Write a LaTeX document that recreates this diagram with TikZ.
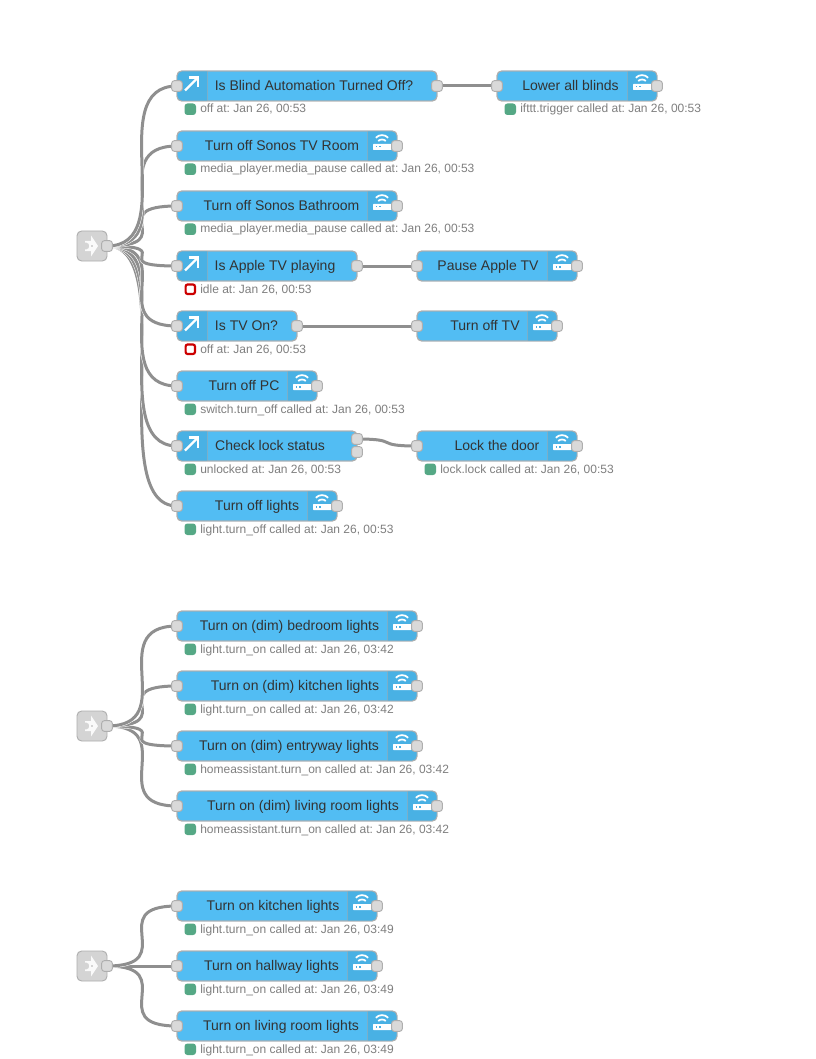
\documentclass[tikz,border=0pt]{standalone}
\usepackage{fontspec}
\setmainfont{Liberation Sans}
\frenchspacing
\definecolor{nodeblue}{HTML}{52BDF3}
\definecolor{icondark}{HTML}{49B1E4}
\definecolor{nodeedge}{HTML}{AEAEAE}
\definecolor{wiregray}{HTML}{8F8F8F}
\definecolor{labeltxt}{HTML}{333333}
\definecolor{stattxt}{HTML}{7F7F7F}
\definecolor{okgreen}{HTML}{55A885}
\definecolor{badred}{HTML}{CC0000}
\definecolor{injectgray}{HTML}{D4D4D4}
\definecolor{portfill}{HTML}{D9D9D9}
\pgfdeclarelayer{bg}
\pgfdeclarelayer{wires}
\pgfsetlayers{bg,wires,main}
\tikzset{
  nodebody/.style={draw=nodeedge,line width=.7pt,fill=nodeblue,rounded corners=3.5pt},
  portbox/.style={draw=nodeedge,line width=.7pt,fill=portfill,rounded corners=2pt,minimum width=8pt,minimum height=8pt,inner sep=0pt,rectangle},
  wirehalo/.style={draw=white,line width=3pt},
  wireline/.style={draw=wiregray,line width=2.25pt},
  nlabel/.style={text=labeltxt,font=\fontsize{10.5}{12}\selectfont,inner sep=0pt,anchor=base},
  slabel/.style={text=stattxt,font=\fontsize{9}{11}\selectfont,inner sep=0pt,anchor=base west},
}
% wire: source node, target node, control offset
\newcommand{\wirecurve}[3]{%
  \begin{pgfonlayer}{wires}
  \draw[wirehalo] (#1.center) .. controls ([xshift=#3]#1.center) and ([xshift=-#3]#2.center) .. (#2.center);
  \draw[wireline] (#1.center) .. controls ([xshift=#3]#1.center) and ([xshift=-#3]#2.center) .. (#2.center);
  \end{pgfonlayer}}
% wifi icon, centred on x,y
\newcommand{\wifiicon}[2]{%
  \begin{scope}[shift={(#1,#2)}]
    \fill[white,rounded corners=.5pt] (-9,-2) rectangle (9.5,4);
    \fill[icondark] (-6.5,0) rectangle (-5,1.5);
    \fill[icondark] (-3,0) rectangle (-1.5,1.5);
    \draw[white,line width=1.3pt] (-3.8,-5) .. controls (-2,-7) and (2,-7) .. (3.8,-5);
    \draw[white,line width=1.3pt] (-6.2,-8.2) .. controls (-3,-11.8) and (3,-11.8) .. (6.2,-8.2);
  \end{scope}}
% arrow icon, centred on x,y
\newcommand{\switchicon}[2]{%
  \begin{scope}[shift={(#1,#2)}]
    \draw[white,line width=1.6pt] (-6.5,6.5) -- (6,-6);
    \draw[white,line width=1.6pt] (-3,-6.5) -- (6.8,-6.5) -- (6.8,3.5);
  \end{scope}}
% service node body: id, x1, x2, ytop, textcentre, label
\newcommand{\svcbody}[6]{%
  \draw[nodebody] (#2,#4) rectangle (#3,#4+30);
  \begin{scope}
    \clip[rounded corners=3.5pt] (#2,#4) rectangle (#3,#4+30);
    \fill[icondark] (#3-30,#4) rectangle (#3,#4+30);
  \end{scope}
  \draw[nodeedge!50!icondark,line width=.4pt] (#3-30,#4) -- (#3-30,#4+30);
  \draw[nodeedge,line width=.7pt,rounded corners=3.5pt] (#2,#4) rectangle (#3,#4+30);
  \wifiicon{#3-15}{#4+15}
  \node[nlabel] (#1t) at (#5,#4+19.5) {#6};
  \node[portbox] (#1i) at (#2,#4+15) {};
  \node[portbox] (#1o) at (#3,#4+15) {};}
% service node with status: id, x1, x2, ytop, textcentre, label, status
\newcommand{\svcnode}[7]{%
  \svcbody{#1}{#2}{#3}{#4}{#5}{#6}
  \fill[okgreen,rounded corners=2.2pt] (#2+7.5,#4+32.5) rectangle (#2+19,#4+44);
  \node[slabel] (#1s) at (#2+23,#4+42) {#7};}
% switch node body
\newcommand{\swbody}[6]{%
  \draw[nodebody] (#2,#4) rectangle (#3,#4+30);
  \begin{scope}
    \clip[rounded corners=3.5pt] (#2,#4) rectangle (#3,#4+30);
    \fill[icondark] (#2,#4) rectangle (#2+30,#4+30);
  \end{scope}
  \draw[nodeedge!50!icondark,line width=.4pt] (#2+30,#4) -- (#2+30,#4+30);
  \draw[nodeedge,line width=.7pt,rounded corners=3.5pt] (#2,#4) rectangle (#3,#4+30);
  \switchicon{#2+14.5}{#4+13}
  \node[nlabel] (#1t) at (#5,#4+19.5) {#6};
  \node[portbox] (#1i) at (#2,#4+15) {};}
\newcommand{\swgreen}[7]{%
  \swbody{#1}{#2}{#3}{#4}{#5}{#6}
  \node[portbox] (#1o) at (#3,#4+15) {};
  \fill[okgreen,rounded corners=2.2pt] (#2+7.5,#4+32.5) rectangle (#2+19,#4+44);
  \node[slabel] (#1s) at (#2+23,#4+42) {#7};}
\newcommand{\swred}[7]{%
  \swbody{#1}{#2}{#3}{#4}{#5}{#6}
  \node[portbox] (#1o) at (#3,#4+15) {};
  \draw[badred,fill=white,line width=1.6pt,rounded corners=1.5pt] (#2+8.6,#4+33.5) rectangle (#2+18,#4+43);
  \node[slabel] (#1s) at (#2+23,#4+42) {#7};}
% inject node
\newcommand{\injectnode}[3]{%
  \draw[nodeedge,line width=.7pt,fill=injectgray,rounded corners=3.5pt] (#2,#3) rectangle (#2+30,#3+30);
  \begin{scope}[shift={(#2+15,#3+15)}]
    \fill[white!88!injectgray] (-1,-10.5) -- (6,0) -- (-1,10.5) -- (-1,5) -- (-7,5) -- (-7,3.4) -- (-5.5,3.4)
      .. controls (-3.5,3.4) and (-2.8,1.5) .. (-2.8,0) .. controls (-2.8,-1.5) and (-3.5,-3.4) .. (-5.5,-3.4)
      -- (-7,-3.4) -- (-7,-5) -- (-1,-5) -- cycle;
    \fill[injectgray] (-1,-1.2) rectangle (1.2,1.2);
  \end{scope}
  \node[portbox] (#1o) at (#2+30,#3+15) {};}
\begin{document}
\begin{tikzpicture}[x=0.75pt,y=-0.75pt]
\useasboundingbox (0,0) rectangle (815,1059);
\begin{pgfonlayer}{bg}
\fill[white] (0,0) rectangle (815,1059);
\end{pgfonlayer}

\injectnode{ia}{77}{231}
\injectnode{ib}{77}{711}
\injectnode{ic}{77}{951}

\swgreen{na}{177}{437}{71}{314}{Is Blind Automation Turned Off?}{off at: Jan 26, 00:53}
\svcnode{nb}{497}{657}{71}{570.5}{Lower all blinds}{ifttt.trigger called at: Jan 26, 00:53}
\svcnode{nc}{177}{397}{131}{282}{Turn off Sonos TV Room}{media\_player.media\_pause called at: Jan 26, 00:53}
\svcnode{nd}{177}{397}{191}{281.5}{Turn off Sonos Bathroom}{media\_player.media\_pause called at: Jan 26, 00:53}
\swred{ne}{177}{357}{251}{275}{Is Apple TV playing}{idle at: Jan 26, 00:53}
\svcbody{nf}{417}{577}{251}{488}{Pause Apple TV}
\swred{ng}{177}{297}{311}{246.5}{Is TV On?}{off at: Jan 26, 00:53}
\svcbody{nh}{417}{557}{311}{485}{Turn off TV}
\svcnode{ni}{177}{317}{371}{244}{Turn off PC}{switch.turn\_off called at: Jan 26, 00:53}
\swbody{nj}{177}{357}{431}{270}{Check lock status}
\node[portbox] (njo) at (357,439) {};
\node[portbox] (njp) at (357,452) {};
\fill[okgreen,rounded corners=2.2pt] (184.5,463.5) rectangle (196,475);
\node[slabel] (njs) at (200,473) {unlocked at: Jan 26, 00:53};
\svcnode{nk}{417}{577}{431}{497}{Lock the door}{lock.lock called at: Jan 26, 00:53}
\svcnode{nl}{177}{337}{491}{257}{Turn off lights}{light.turn\_off called at: Jan 26, 00:53}

\svcnode{pa}{177}{417}{611}{289.5}{Turn on (dim) bedroom lights}{light.turn\_on called at: Jan 26, 03:42}
\svcnode{pb}{177}{417}{671}{295}{Turn on (dim) kitchen lights}{light.turn\_on called at: Jan 26, 03:42}
\svcnode{pc}{177}{417}{731}{289}{Turn on (dim) entryway lights}{homeassistant.turn\_on called at: Jan 26, 03:42}
\svcnode{pd}{177}{437}{791}{303}{Turn on (dim) living room lights}{homeassistant.turn\_on called at: Jan 26, 03:42}

\svcnode{qa}{177}{377}{891}{273}{Turn on kitchen lights}{light.turn\_on called at: Jan 26, 03:49}
\svcnode{qb}{177}{377}{951}{271.5}{Turn on hallway lights}{light.turn\_on called at: Jan 26, 03:49}
\svcnode{qc}{177}{397}{1011}{281}{Turn on living room lights}{light.turn\_on called at: Jan 26, 03:49}

% wires
\foreach \n in {nl,nj,ni,ng,ne,nd,nc,na}{ \wirecurve{iao}{\n i}{56.25pt} }
\foreach \n in {pd,pc,pb,pa}{ \wirecurve{ibo}{\n i}{56.25pt} }
\foreach \n in {qc,qb,qa}{ \wirecurve{ico}{\n i}{56.25pt} }
\wirecurve{nao}{nbi}{22.5pt}
\wirecurve{neo}{nfi}{22.5pt}
\wirecurve{ngo}{nhi}{22.5pt}
\wirecurve{njo}{nki}{33.75pt}
\end{tikzpicture}
\end{document}
